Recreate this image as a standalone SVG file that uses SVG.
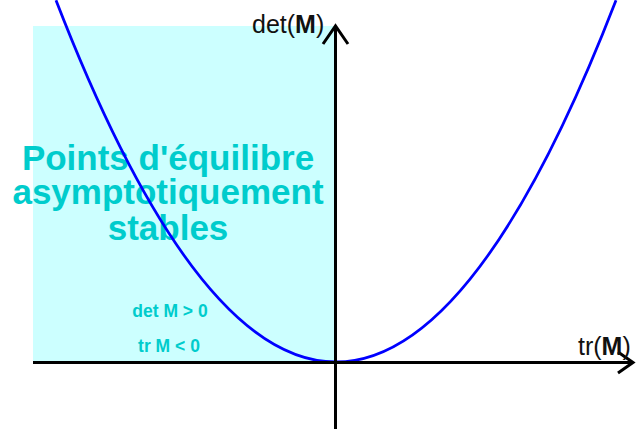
<svg xmlns="http://www.w3.org/2000/svg" width="636" height="429" viewBox="0 0 636 429">
<style>
.big{font-family:"Liberation Sans",Arial,sans-serif;font-weight:bold;font-size:35px;fill:#00cccc;text-anchor:middle}
.small{font-family:"Liberation Sans",Arial,sans-serif;font-weight:bold;font-size:17.5px;fill:#00cccc;text-anchor:middle}
.lab{font-family:"Liberation Sans",Arial,sans-serif;font-size:25px;fill:#111}
.axis{stroke:#000;fill:none;stroke-width:3}
</style>
<rect width="636" height="429" fill="#fff"/>
<g id="region">
<rect x="33" y="26" width="303" height="336" fill="#ccffff"/>
<text class="big" x="168" y="170">Points d'équilibre</text>
<text class="big" x="168" y="204">asymptotiquement</text>
<text class="big" x="168" y="240">stables</text>
<text class="small" x="170" y="317">det M &gt; 0</text>
<text class="small" x="169" y="352">tr M &lt; 0</text>
</g>
<g id="curve">
<path d="M56,0.3 Q336,723.7 616,0.3" fill="none" stroke="#0000ff" stroke-width="2.8"/>
</g>
<g id="connectors">
<line class="axis" x1="33" y1="362.5" x2="632" y2="362.5"/>
<polyline class="axis" points="618,352 633,362.5 618,373"/>
<line class="axis" x1="335.5" y1="429" x2="335.5" y2="26"/>
<polyline class="axis" points="323,44 335.5,26 348,44"/>
</g>
<g id="labels">
<text class="lab" x="252" y="33">det(<tspan font-weight="bold">M</tspan>)</text>
<text class="lab" x="578" y="355">tr(<tspan font-weight="bold">M</tspan>)</text>
</g>
</svg>
